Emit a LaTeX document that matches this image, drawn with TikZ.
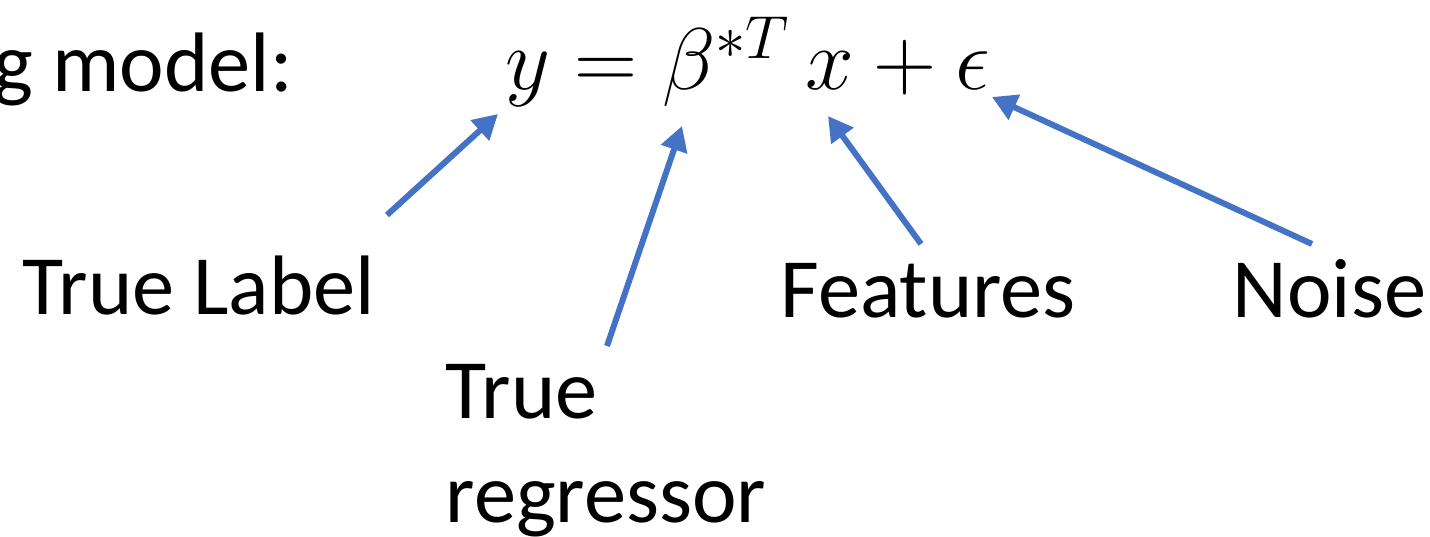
\documentclass[tikz,border=0pt]{standalone}
\usepackage[no-math]{fontspec}
\setmainfont{Carlito}
\usepackage{xcolor}
\usetikzlibrary{arrows.meta}
\definecolor{arrowblue}{RGB}{68,114,196}

\begin{document}
\begin{tikzpicture}[x=0.01cm,y=-0.01cm,
    every node/.style={inner sep=0pt,anchor=base west},
    lbl/.style    ={font=\fontsize{24}{29.5}\selectfont},
    eqn/.style    ={font=\fontsize{26}{30}\selectfont},
    pointer/.style={-{Triangle[length=7pt,width=7.5pt]},
                    draw=arrowblue,line width=1.7pt},
  ]
  \useasboundingbox (0,0) rectangle (1430,537);

  % --- heading and model ---
  \node[lbl] (head) at (-7,92) {g model:};
  \node[eqn] (model) at (505,90) {$y=\beta^{*T}\,x+\epsilon$};

  % --- labels ---
  \node[lbl] (truelabel) at (22,315) {True Label};
  \node[lbl,align=left] (regressor) at (445,522) {True\\regressor};
  \node[lbl] (features) at (780,318) {Features};
  \node[lbl] (noise) at (1232,318) {Noise};

  % --- arrow ends ---
  \coordinate (yTail)   at (387,215);  \coordinate (yTip)   at (498,114);
  \coordinate (bTail)   at (607,346);  \coordinate (bTip)   at (682,126);
  \coordinate (xTail)   at (921,244);  \coordinate (xTip)   at (828,116);
  \coordinate (eTail)   at (1312,244); \coordinate (eTip)   at (992,97);

  \draw[pointer] (yTail) -- (yTip);
  \draw[pointer] (bTail) -- (bTip);
  \draw[pointer] (xTail) -- (xTip);
  \draw[pointer] (eTail) -- (eTip);
\end{tikzpicture}
\end{document}
